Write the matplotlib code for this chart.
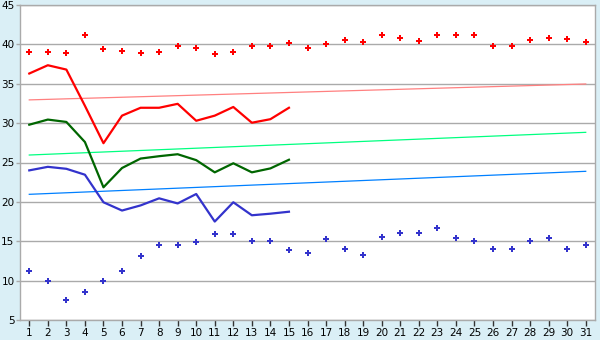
import matplotlib
matplotlib.use("Agg")
import matplotlib.pyplot as plt

days = list(range(1, 32))
line_days = list(range(1, 16))

red_points = [39.0, 39.0, 38.9, 41.15, 39.37, 39.1, 38.9, 39.0, 39.75, 39.5,
              38.78, 39.0, 39.75, 39.75, 40.13, 39.6, 40.0, 40.5, 40.25, 41.15,
              40.77, 40.38, 41.15, 41.15, 41.15, 39.75, 39.75, 40.5, 40.77, 40.64, 40.25]
blue_points = [11.18, 10.0, 7.5, 8.5, 10.0, 11.18, 13.08, 14.48, 14.48, 14.9,
               15.88, 15.88, 15.0, 15.0, 13.85, 13.47, 15.24, 13.97, 13.21, 15.5,
               16.0, 16.0, 16.64, 15.37, 15.0, 13.97, 13.97, 15.0, 15.37, 13.97, 14.48]

red_line = [36.3, 37.35, 36.8, 32.2, 27.45, 30.95, 31.95, 31.95, 32.45, 30.3,
            30.95, 32.05, 30.05, 30.5, 31.95]
green_line = [29.8, 30.45, 30.15, 27.6, 21.85, 24.3, 25.5, 25.8, 26.05, 25.3,
              23.75, 24.9, 23.75, 24.25, 25.35]
blue_line = [24.0, 24.45, 24.2, 23.45, 19.95, 18.9, 19.55, 20.45, 19.8, 21.0,
             17.5, 19.95, 18.3, 18.5, 18.75]

trend_days = [1, 31]
trend_red = [32.95, 34.97]
trend_green = [25.95, 28.83]
trend_blue = [20.96, 23.88]

yticks = [5, 10, 15, 20, 25, 30, 35, 40, 45]

bg = "#DAEFF6"
grid_c = "#AAAAAA"

fig = plt.figure(figsize=(6, 3.4), dpi=100, facecolor=bg)
ax = fig.add_axes([20/600, 20/340, 575/600, 315/340])
ax.set_facecolor("white")

for y in yticks:
    ax.axhline(y, color=grid_c, lw=1.0, zorder=1)

ax.plot(trend_days, trend_red, color="#FF8080", lw=0.9, zorder=2)
ax.plot(trend_days, trend_green, color="#00FF80", lw=0.9, zorder=2)
ax.plot(trend_days, trend_blue, color="#0080FF", lw=0.9, zorder=2)

ax.plot(line_days, red_line, color="#FF0000", lw=1.6, zorder=3)
ax.plot(line_days, green_line, color="#006600", lw=1.6, zorder=3)
ax.plot(line_days, blue_line, color="#3333CC", lw=1.6, zorder=3)

ax.plot(days, red_points, ls="none", marker="P", ms=4.0, color="#FF0000",
        markeredgewidth=0, zorder=4)
ax.plot(days, blue_points, ls="none", marker="P", ms=4.0, color="#3333CC",
        markeredgewidth=0, zorder=4)

ax.set_xlim(0.5, 31.5)
ax.set_ylim(5, 45)
ax.set_xticks(days)
ax.set_xticklabels([str(d) for d in days])
ax.set_yticks(yticks)
ax.set_yticklabels([str(y) for y in yticks])

for s in ax.spines.values():
    s.set_color(grid_c)
    s.set_linewidth(1.0)

ax.tick_params(axis="both", labelcolor="#000000", labelsize=7.5, width=1)
ax.tick_params(axis="x", color="#333333", length=4, pad=2)
ax.tick_params(axis="y", color=grid_c, length=3, pad=1)

fig.savefig("out.png", dpi=100, facecolor=bg)
